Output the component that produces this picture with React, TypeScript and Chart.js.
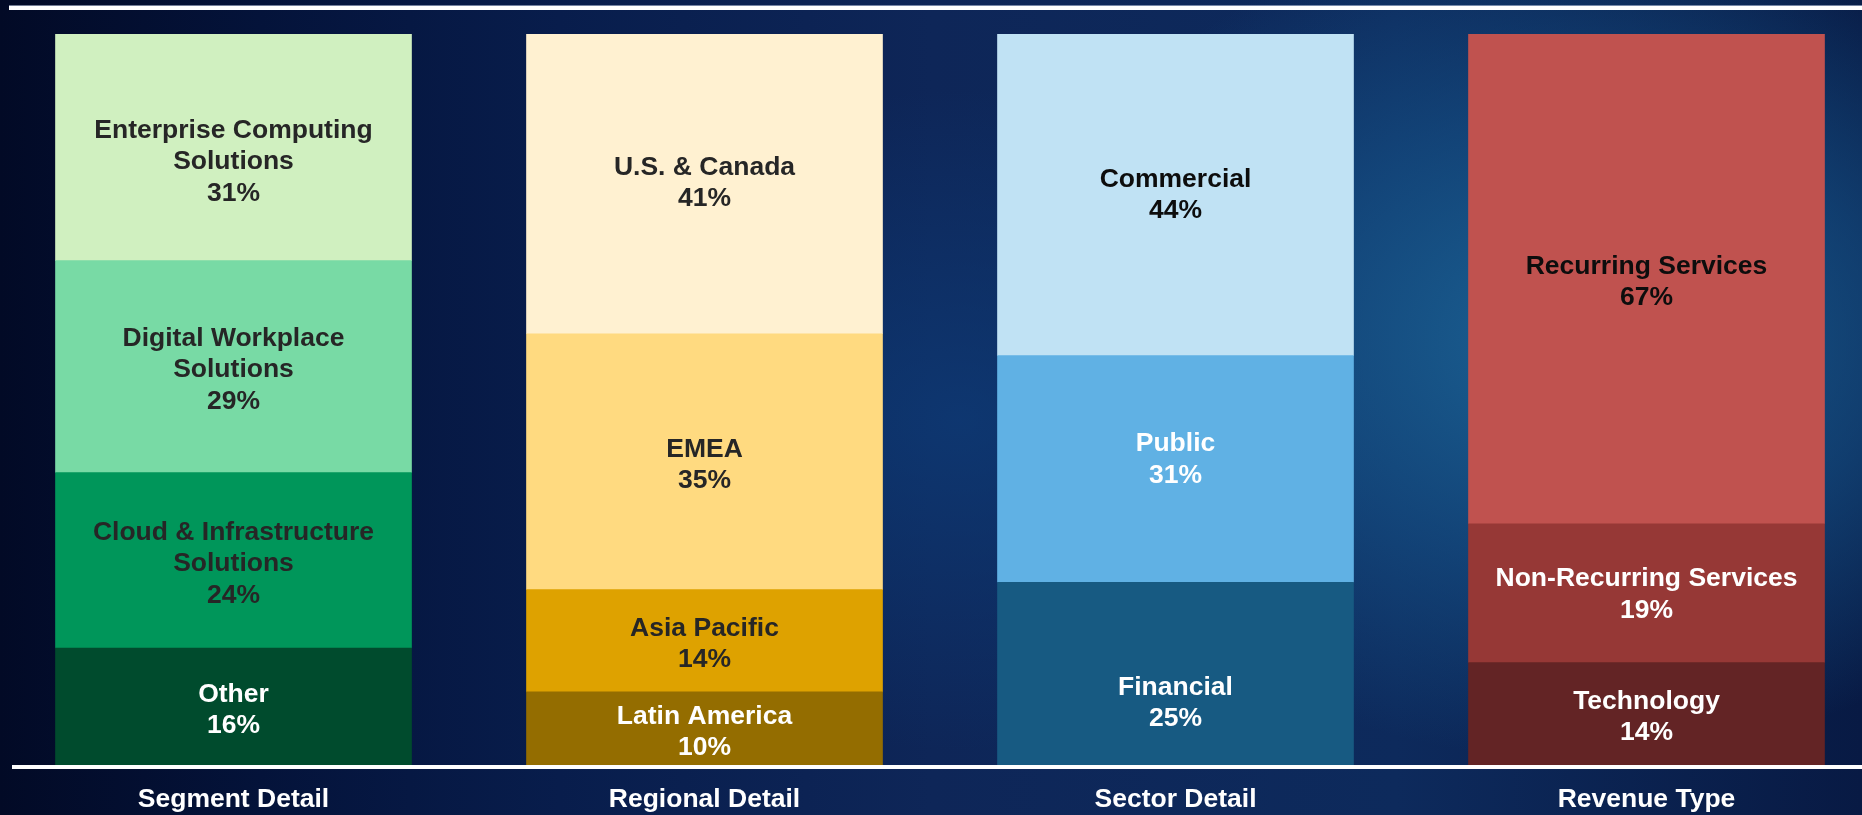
import React, { useEffect, useRef } from 'react';
import { Chart, registerables } from 'chart.js';

Chart.register(...registerables);

// ---------- data ----------
const categories = ['Segment Detail', 'Regional Detail', 'Sector Detail', 'Revenue Type'];

const segmentNames = ['Other', 'Cloud & Infrastructure Solutions', 'Digital Workplace Solutions', 'Enterprise Computing Solutions'];
const segmentShares = [16, 24, 29, 31];

const regionalNames = ['Latin America', 'Asia Pacific', 'EMEA', 'U.S. & Canada'];
const regionalShares = [10, 14, 35, 41];

const sectorNames = ['Financial', 'Public', 'Commercial'];
const sectorShares = [25, 31, 44];

const revenueNames = ['Technology', 'Non-Recurring Services', 'Recurring Services'];
const revenueShares = [14, 19, 67];

// ---------- styles ----------
const segmentColors = ['#004B2D', '#00965A', '#78DAA5', '#D0F0C0'];
const regionalColors = ['#946D00', '#DEA200', '#FFDA80', '#FFF1D1'];
const sectorColors = ['#175A82', '#60B1E4', '#C0E2F4'];
const revenueColors = ['#632425', '#963836', '#C0524F'];

const segmentText = ['#FFFFFF', '#262626', '#262626', '#262626'];
const regionalText = ['#FFFFFF', '#262626', '#262626', '#262626'];
const sectorText = ['#FFFFFF', '#FFFFFF', '#0D0D0D'];
const revenueText = ['#FFFFFF', '#FFFFFF', '#0D0D0D'];

// vertical nudge of each in-bar label (px), as placed in the original slide
const segmentNudge = [0, 0, 0, 11];
const regionalNudge = [0, 0, 0, -4];
const sectorNudge = [26, -13, -3];
const revenueNudge = [0, -2, 0];

const groups = [
  { names: segmentNames, values: segmentShares, colors: segmentColors, text: segmentText, nudge: segmentNudge },
  { names: regionalNames, values: regionalShares, colors: regionalColors, text: regionalText, nudge: regionalNudge },
  { names: sectorNames, values: sectorShares, colors: sectorColors, text: sectorText, nudge: sectorNudge },
  { names: revenueNames, values: revenueShares, colors: revenueColors, text: revenueText, nudge: revenueNudge },
];

const W = 1862;
const H = 815;
const CANVAS_W = 1884; // 4 categories x 471px
const SHIFT = -2; // canvas left offset in the page
const FONT = 'bold 26.5px "Liberation Sans", Arial, sans-serif';

function wrap(ctx: CanvasRenderingContext2D, text: string, maxW: number): string[] {
  const words = text.split(' ');
  const lines: string[] = [];
  let cur = '';
  for (const w of words) {
    const test = cur ? cur + ' ' + w : w;
    if (ctx.measureText(test).width > maxW && cur) {
      lines.push(cur);
      cur = w;
    } else {
      cur = test;
    }
  }
  if (cur) lines.push(cur);
  return lines;
}

const decorPlugin = {
  id: 'decor',
  afterDatasetsDraw(chart: any) {
    const ctx: CanvasRenderingContext2D = chart.ctx;
    ctx.save();
    ctx.font = FONT;
    ctx.textAlign = 'center';
    ctx.textBaseline = 'middle';
    const lh = 31.5;
    chart.data.datasets.forEach((ds: any, l: number) => {
      const meta = chart.getDatasetMeta(l);
      meta.data.forEach((bar: any, i: number) => {
        const g = groups[i];
        const v = g.values[l];
        if (v === undefined || v === null) return;
        const p = bar.getProps(['x', 'y', 'base'], true);
        const cy = (p.y + p.base) / 2 + 3.5 + (g.nudge[l] || 0);
        const lines = wrap(ctx, g.names[l], 335).concat([v + '%']);
        const top = cy - ((lines.length - 1) * lh) / 2;
        ctx.fillStyle = g.text[l];
        lines.forEach((t, k) => ctx.fillText(t, p.x, top + k * lh));
      });
    });
    // horizontal rules (page coords -> canvas coords)
    const ox = -SHIFT;
    ctx.fillStyle = 'rgba(190,200,220,0.6)';
    ctx.fillRect(9 + ox, 5, CANVAS_W, 1);
    ctx.fillStyle = '#FFFFFF';
    ctx.fillRect(9 + ox, 6, CANVAS_W, 4);
    ctx.fillRect(12 + ox, 765, CANVAS_W, 4);
    // category labels
    const xs = chart.scales.x;
    ctx.fillStyle = '#FFFFFF';
    categories.forEach((c, i) => {
      ctx.fillText(c, xs.getPixelForValue(i), 800);
    });
    ctx.restore();
  },
};

export default function App() {
  const ref = useRef<HTMLCanvasElement | null>(null);
  useEffect(() => {
    if (!ref.current) return;
    const levels = Math.max(...groups.map((g) => g.values.length));
    const datasets = [];
    for (let l = 0; l < levels; l++) {
      datasets.push({
        label: 'level ' + l,
        data: groups.map((g) => g.values[l] ?? null),
        backgroundColor: groups.map((g) => g.colors[l] ?? 'rgba(0,0,0,0)'),
        borderWidth: 0,
        barThickness: 356,
      });
    }
    const chart = new Chart(ref.current, {
      type: 'bar',
      data: { labels: categories, datasets },
      options: {
        animation: false,
        responsive: false,
        devicePixelRatio: 1,
        layout: { padding: { top: 34, bottom: 50, left: 0, right: 0 }, autoPadding: false },
        plugins: { legend: { display: false }, tooltip: { enabled: false } },
        scales: {
          x: { type: 'category', offset: true, stacked: true, display: false },
          y: { type: 'linear', min: 0, max: 100, stacked: true, display: false },
        },
      },
      plugins: [decorPlugin],
    } as any);
    return () => chart.destroy();
  }, []);
  return (
    <div
      style={{
        position: 'fixed',
        left: 0,
        top: 0,
        width: W,
        height: H,
        overflow: 'hidden',
        background:
          'radial-gradient(ellipse 560px 420px at 1580px 340px, rgba(28,102,152,0.95) 0%, rgba(22,84,138,0.6) 55%, rgba(10,40,90,0) 100%),' +
          'radial-gradient(ellipse 430px 330px at 960px 420px, rgba(14,60,120,0.75) 0%, rgba(10,40,90,0) 100%),' +
          'linear-gradient(90deg, #020a26 0%, #04133a 14%, #081d4c 30%, #0e2658 50%, #0d2a5c 75%, #081a44 100%)',
      }}
    >
      <canvas
        ref={ref}
        width={CANVAS_W}
        height={H}
        style={{ display: 'block', position: 'absolute', left: SHIFT, top: 0 }}
      />
    </div>
  );
}
